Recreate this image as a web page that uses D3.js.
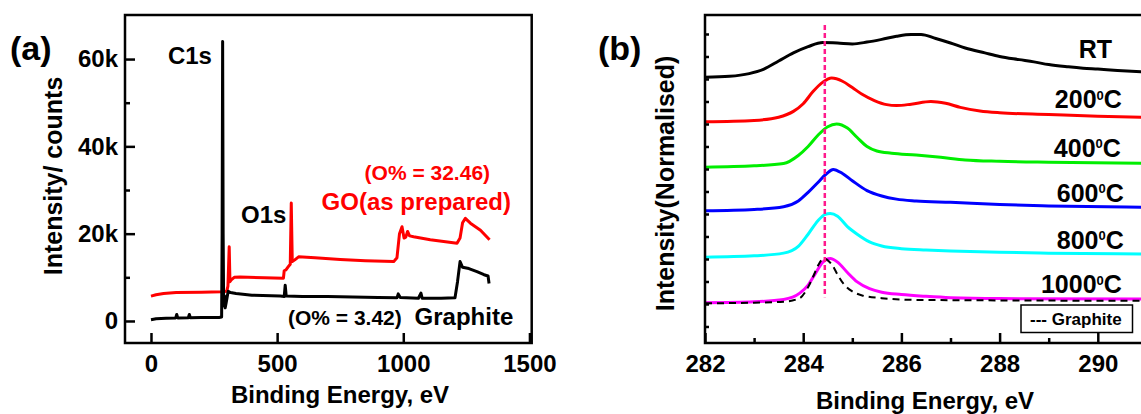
<!DOCTYPE html>
<html><head><meta charset="utf-8">
<script src="https://cdn.jsdelivr.net/npm/d3@7"></script>
<style>
html,body{margin:0;padding:0;background:#fff;}
svg{display:block;font-family:"Liberation Sans",Arial,sans-serif;font-weight:bold;}
</style></head><body>
<svg id="chart" width="1141" height="414"></svg>
<script>
// ---------- Panel (a): XPS survey, [binding energy eV, counts] ----------
const surveyGraphite = [
  [0,300],[20,500],[60,600],[98,700],[102,1500],[106,700],[148,750],[152,1500],[156,750],
  [200,800],[270,800],[280,900],[282,20000],[284,64000],[286,20000],[288,3500],[291,5800],
  [294,3000],[298,4200],[306,6800],[315,6500],[337,6300],[400,5900],[512,5700],[528,5600],
  [532,8200],[536,5700],[600,5600],[700,5600],[800,5500],[900,5400],[975,5300],[980,6200],
  [988,5400],[1060,5200],[1070,6400],[1075,5200],[1150,5200],[1205,5300],[1215,9000],
  [1225,13600],[1235,12300],[1260,12000],[1292,11300],[1320,10600],[1336,10300],[1340,8600]
];
const surveyGO = [
  [0,5700],[20,6000],[50,6300],[100,6500],[200,6600],[280,6700],[300,6800],[305,8000],
  [310,17000],[313,9000],[318,9400],[330,10000],[353,10100],[450,9900],[525,9800],[528,11500],
  [535,11700],[545,12500],[552,13000],[556,27000],[560,13600],[570,14000],[585,14700],
  [650,14500],[750,14100],[850,13800],[962,13600],[975,14500],[985,20000],[995,21600],
  [1003,19000],[1010,19200],[1017,20500],[1025,19500],[1041,19300],[1107,18600],[1213,17800],
  [1225,19000],[1235,22500],[1246,23500],[1266,22400],[1306,20800],[1342,18600]
];
const surveyXTicks = [0, 500, 1000, 1500];
const surveyYTicks = [0, 20000, 40000, 60000];
const surveyYTickLabels = ["0", "20k", "40k", "60k"];
const surveyYMinor = [10000, 30000, 50000];

// ---------- Panel (b): C1s spectra, [binding energy eV, normalised intensity + offset] ----------
const specRT = [
  [282.0,5.04],[282.5,5.06],[282.9,5.12],[283.2,5.22],[283.5,5.40],[283.8,5.58],[284.1,5.72],
  [284.4,5.81],[284.7,5.80],[285.0,5.78],[285.3,5.82],[285.6,5.88],[285.9,5.95],
  [286.2,5.99],[286.4,5.99],[286.7,5.90],[287.0,5.80],[287.3,5.69],[287.7,5.58],[288.0,5.50],
  [288.4,5.43],[288.7,5.38],[289.0,5.32],[289.4,5.27],[289.7,5.24],[290.0,5.22],[290.4,5.19],[290.9,5.16]
];
const spec200 = [
  [282.0,4.05],[283.0,4.08],[283.5,4.15],[283.8,4.28],[284.0,4.45],[284.2,4.72],[284.4,4.93],
  [284.58,5.02],[284.8,4.95],[285.0,4.81],[285.2,4.66],[285.45,4.52],[285.7,4.43],[285.9,4.41],
  [286.2,4.44],[286.6,4.50],[286.9,4.46],[287.2,4.37],[287.6,4.29],[288.0,4.25],[289.0,4.21],
  [290.0,4.17],[290.9,4.15]
];
const spec400 = [
  [282.0,3.04],[283.0,3.07],[283.6,3.12],[283.9,3.30],[284.1,3.50],[284.3,3.75],[284.5,3.94],
  [284.68,4.0],[284.9,3.91],[285.1,3.70],[285.3,3.50],[285.5,3.40],[285.8,3.35],[286.3,3.31],
  [286.8,3.26],[287.3,3.20],[288.0,3.17],[289.0,3.15],[290.9,3.13]
];
const spec600 = [
  [282.0,2.07],[283.0,2.10],[283.6,2.16],[283.9,2.29],[284.1,2.48],[284.3,2.70],[284.48,2.90],
  [284.61,2.99],[284.8,2.90],[285.0,2.74],[285.3,2.52],[285.6,2.40],[285.9,2.33],[286.3,2.29],
  [287.0,2.26],[288.0,2.21],[289.0,2.18],[290.9,2.15]
];
const spec800 = [
  [282.0,1.04],[283.0,1.07],[283.6,1.13],[283.9,1.28],[284.1,1.55],[284.3,1.85],[284.45,1.99],
  [284.55,2.01],[284.7,1.95],[284.9,1.72],[285.1,1.55],[285.35,1.38],[285.6,1.29],[286.0,1.23],
  [286.5,1.20],[287.0,1.18],[288.0,1.15],[289.0,1.13],[290.9,1.11]
];
const spec1000 = [
  [282.0,0.03],[283.0,0.05],[283.6,0.10],[283.93,0.24],[284.1,0.42],[284.25,0.68],[284.4,0.93],
  [284.55,1.01],[284.7,0.93],[284.9,0.70],[285.1,0.49],[285.35,0.34],[285.6,0.26],[286.0,0.21],
  [286.5,0.17],[287.0,0.14],[288.0,0.12],[290.9,0.11]
];
const specGraphite = [
  [282.0,0.015],[283.0,0.03],[283.6,0.05],[283.93,0.13],[284.05,0.28],[284.2,0.60],[284.31,0.87],
  [284.42,1.01],[284.5,0.97],[284.6,0.85],[284.7,0.65],[284.82,0.45],[285.0,0.28],[285.2,0.19],
  [285.6,0.13],[286.3,0.09],[287.0,0.085],[290.9,0.07]
];
const referencePeak = 284.44;
const c1sXTicks = [282, 284, 286, 288, 290];
const c1sXMinor = [283, 285, 287, 289, 291];
const c1sYTicks = [-0.5,0,0.5,1,1.5,2,2.5,3,3.5,4,4.5,5,5.5,6];
const tempNames = ["RT", "200", "400", "600", "800", "1000"];

// ---------- drawing ----------
const svg = d3.select("#chart");
const FS = 24;

function styleAxis(g, fontSize) {
  g.attr("font-family", null).attr("font-size", null);
  g.select(".domain").remove();
  g.selectAll(".tick line").attr("stroke", "#000").attr("stroke-width", 2.5);
  g.selectAll(".tick text").attr("fill", "#000").attr("font-size", fontSize);
}

// ===== Panel (a) =====
const ax = d3.scaleLinear().domain([-103, 1509]).range([125, 531.7]);
const ay = d3.scaleLinear().domain([-5000, 70000]).range([342.8, 15.4]);
const pa = svg.append("g");

const lineA = d3.line().x(d => ax(d[0])).y(d => ay(d[1]));
pa.append("path").datum(surveyGO).attr("d", lineA)
  .attr("fill", "none").attr("stroke", "#ff0000").attr("stroke-width", 3).attr("stroke-linejoin", "round");
pa.append("path").datum(surveyGraphite).attr("d", lineA)
  .attr("fill", "none").attr("stroke", "#000").attr("stroke-width", 3).attr("stroke-linejoin", "round");

pa.append("g").attr("transform", "translate(0,343)")
  .call(d3.axisBottom(ax).tickValues(surveyXTicks).tickSize(-10).tickPadding(12).tickFormat(d3.format("d")))
  .call(g => styleAxis(g, FS));
pa.append("g").attr("transform", "translate(125,0)")
  .call(d3.axisLeft(ay).tickValues(surveyYTicks).tickSize(-10).tickPadding(7)
    .tickFormat((d, i) => surveyYTickLabels[i]))
  .call(g => styleAxis(g, FS));
pa.append("g").attr("transform", "translate(125,0)")
  .call(d3.axisLeft(ay).tickValues(surveyYMinor).tickSize(-5).tickFormat(""))
  .call(g => styleAxis(g, FS));

pa.append("rect").attr("x", 125).attr("y", 15).attr("width", 406.7).attr("height", 328)
  .attr("fill", "none").attr("stroke", "#000").attr("stroke-width", 2.5);

// annotations (a)
pa.append("text").attr("x", ax(67)).attr("y", ay(58900)).attr("font-size", FS).text("C1s");
pa.append("text").attr("x", ax(357)).attr("y", ay(22450)).attr("font-size", FS).text("O1s");
pa.append("text").attr("x", ax(1344)).attr("y", ay(32300)).attr("font-size", 21)
  .attr("text-anchor", "end").attr("fill", "#ff0000").text("(O% = 32.46)");
pa.append("text").attr("x", ax(1427)).attr("y", ay(25500)).attr("font-size", FS)
  .attr("text-anchor", "end").attr("fill", "#ff0000").text("GO(as prepared)");
pa.append("text").attr("x", ax(543)).attr("y", ay(-900)).attr("font-size", 21).text("(O% = 3.42)");
pa.append("text").attr("x", ax(1436)).attr("y", ay(-900)).attr("font-size", FS)
  .attr("text-anchor", "end").text("Graphite");

pa.append("text").attr("x", 340).attr("y", 403).attr("text-anchor", "middle").attr("font-size", FS)
  .text("Binding Energy, eV");
pa.append("text").attr("transform", "translate(62,176) rotate(-90)").attr("text-anchor", "middle")
  .attr("font-size", 25).text("Intensity/ counts");
pa.append("text").attr("x", 10).attr("y", 60).attr("font-size", 34).text("(a)");

// ===== Panel (b) =====
const bx = d3.scaleLinear().domain([282, 291]).range([705, 1146.9]);
const by = d3.scaleLinear().domain([-0.867, 6.422]).range([343, 15]);
const pb = svg.append("g");

svg.append("defs").append("clipPath").attr("id", "clipB")
  .append("rect").attr("x", 705).attr("y", 15).attr("width", 440).attr("height", 328);

const lineB = d3.line().x(d => bx(d[0])).y(d => by(d[1])).curve(d3.curveMonotoneX);
const plotB = pb.append("g").attr("clip-path", "url(#clipB)");

const seriesB = [
  {data: specRT, color: "#000000"},
  {data: spec200, color: "#ff0000"},
  {data: spec400, color: "#00ee00"},
  {data: spec600, color: "#0000ff"},
  {data: spec800, color: "#00ffff"},
  {data: spec1000, color: "#ff00ff"}
];
seriesB.forEach(s => {
  plotB.append("path").datum(s.data).attr("d", lineB)
    .attr("fill", "none").attr("stroke", s.color).attr("stroke-width", 3);
});
plotB.append("path").datum(specGraphite).attr("d", lineB)
  .attr("fill", "none").attr("stroke", "#000").attr("stroke-width", 2).attr("stroke-dasharray", "7,5");

plotB.append("line").attr("x1", bx(referencePeak)).attr("x2", bx(referencePeak))
  .attr("y1", by(6.2)).attr("y2", by(0.15))
  .attr("stroke", "#ff1a8c").attr("stroke-width", 2.5).attr("stroke-dasharray", "5,3");

pb.append("g").attr("transform", "translate(0,343)")
  .call(d3.axisBottom(bx).tickValues(c1sXTicks).tickSize(-10).tickPadding(12).tickFormat(d3.format("d")))
  .call(g => styleAxis(g, FS));
pb.append("g").attr("transform", "translate(0,343)")
  .call(d3.axisBottom(bx).tickValues(c1sXMinor).tickSize(-5).tickFormat(""))
  .call(g => styleAxis(g, FS));
pb.append("g").attr("transform", "translate(705,0)")
  .call(d3.axisLeft(by).tickValues(c1sYTicks).tickSize(-4).tickFormat(""))
  .call(g => styleAxis(g, FS));

pb.append("path").attr("d", "M1150,15 H705 V343 H1150")
  .attr("fill", "none").attr("stroke", "#000").attr("stroke-width", 2.5);

// temperature labels
const labelPos = [[290.29, 5.46], [290.49, 4.35], [290.47, 3.27], [290.53, 2.27], [290.53, 1.22], [290.49, 0.24]];
tempNames.forEach((name, i) => {
  const t = pb.append("text").attr("x", bx(labelPos[i][0])).attr("y", by(labelPos[i][1]))
    .attr("text-anchor", "end").attr("font-size", 25);
  if (name === "RT") { t.text(name); return; }
  t.append("tspan").text(name);
  t.append("tspan").attr("font-size", 13).attr("dy", -8.6).text("0");
  t.append("tspan").attr("dy", 8.6).text("C");
});

// legend box
pb.append("rect").attr("x", 1021).attr("y", 305).attr("width", 111.5).attr("height", 27.5)
  .attr("fill", "#fff").attr("stroke", "#000").attr("stroke-width", 1.5);
pb.append("text").attr("x", 1030).attr("y", 325).attr("font-size", 17).text("--- Graphite");

pb.append("text").attr("x", 925).attr("y", 409).attr("text-anchor", "middle").attr("font-size", FS)
  .text("Binding Energy, eV");
pb.append("text").attr("transform", "translate(674,183.5) rotate(-90)").attr("text-anchor", "middle")
  .attr("font-size", 25).text("Intensity(Normalised)");
pb.append("text").attr("x", 598).attr("y", 60).attr("font-size", 34).text("(b)");
</script>
</body></html>
